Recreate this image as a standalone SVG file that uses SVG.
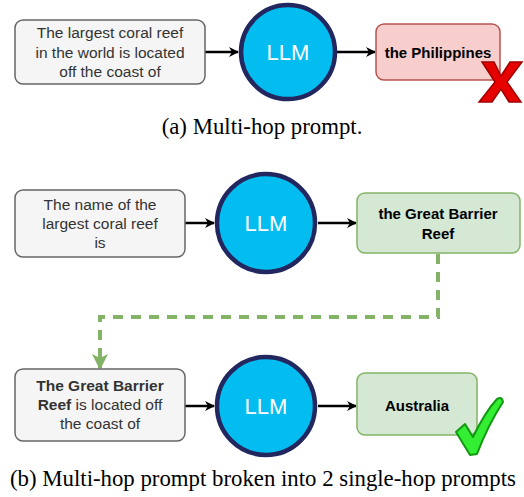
<svg xmlns="http://www.w3.org/2000/svg" width="524" height="497" viewBox="0 0 524 497">
<style>
.in{fill:#f5f5f5;stroke:#666666;stroke-width:1.5}
.bad{fill:#f8cecc;stroke:#b85450;stroke-width:1.5}
.good{fill:#d5e8d4;stroke:#82b366;stroke-width:1.5}
.llm{fill:#03bdf0;stroke:#23275f;stroke-width:4.5}
.t{font-family:"Liberation Sans",Arial,sans-serif;font-size:15.5px;fill:#333333;text-anchor:middle}
.b{font-family:"Liberation Sans",Arial,sans-serif;font-size:15px;font-weight:bold;fill:#000;text-anchor:middle}
.l{font-family:"Liberation Sans",Arial,sans-serif;font-size:22px;fill:#ffffff;text-anchor:middle}
.cap{font-family:"Liberation Serif","Times New Roman",serif;font-size:22.8px;fill:#000;text-anchor:middle}
.e{stroke:#000;stroke-width:2.5;fill:none}
</style>
<defs>
<marker id="ah" markerWidth="10" markerHeight="10" refX="9" refY="5" orient="auto" markerUnits="userSpaceOnUse" viewBox="0 0 10 10">
<path d="M0,0 L10,5 L0,10 L3,5 Z" fill="#000"/>
</marker>
<marker id="gh" markerWidth="16" markerHeight="16" refX="14" refY="8" orient="auto" markerUnits="userSpaceOnUse" viewBox="0 0 16 16">
<path d="M0,0 L16,8 L0,16 L4,8 Z" fill="#82b366"/>
</marker>
</defs>
<g id="connectors">
<line class="e" x1="205" y1="52" x2="238" y2="52" marker-end="url(#ah)"/>
<line class="e" x1="337" y1="52" x2="375" y2="52" marker-end="url(#ah)"/>
<line class="e" x1="185" y1="223" x2="214" y2="223" marker-end="url(#ah)"/>
<line class="e" x1="318" y1="223" x2="356" y2="223" marker-end="url(#ah)"/>
<line class="e" x1="185" y1="406" x2="214" y2="406" marker-end="url(#ah)"/>
<line class="e" x1="318" y1="406" x2="356" y2="406" marker-end="url(#ah)"/>
<path d="M438,254 V317 H100 V368" fill="none" stroke="#82b366" stroke-width="4" stroke-dasharray="10,8" marker-end="url(#gh)"/>
</g>
<g id="n1">
<rect class="in" x="15" y="20" width="190" height="64" rx="8"/>
<text class="t" x="110" y="38">The largest coral reef</text>
<text class="t" x="110" y="58">in the world is located</text>
<text class="t" x="110" y="77">off the coast of</text>
</g>
<g id="llm1">
<circle class="llm" cx="288" cy="52" r="47"/>
<text class="l" x="288" y="60">LLM</text>
</g>
<g id="out1">
<rect class="bad" x="376" y="24" width="124" height="56" rx="8"/>
<text class="b" x="438" y="58">the Philippines</text>
</g>
<g id="cross">
<path d="M482,62 L494,62 L501,76 L510,62 L522,62 L507,82 L521,102 L509,102 L501,89 L492,102 L479,102 L495,82 Z" fill="#e60000" stroke="#a00000" stroke-width="1.5"/>
</g>
<text class="cap" x="262" y="134">(a) Multi-hop prompt.</text>
<g id="n2">
<rect class="in" x="15" y="190" width="170" height="67" rx="8"/>
<text class="t" x="100" y="210">The name of the</text>
<text class="t" x="100" y="229">largest coral reef</text>
<text class="t" x="100" y="248">is</text>
</g>
<g id="llm2">
<circle class="llm" cx="266" cy="223" r="49"/>
<text class="l" x="266" y="231">LLM</text>
</g>
<g id="out2">
<rect class="good" x="357" y="193" width="163" height="60" rx="8"/>
<text class="b" x="438" y="219">the Great Barrier</text>
<text class="b" x="438" y="239">Reef</text>
</g>
<g id="n3">
<rect class="in" x="15" y="369" width="170" height="72" rx="8"/>
<text class="t" x="100" y="391"><tspan font-weight="bold">The Great Barrier</tspan></text>
<text class="t" x="100" y="410"><tspan font-weight="bold">Reef</tspan> is located off</text>
<text class="t" x="100" y="429">the coast of</text>
</g>
<g id="llm3">
<circle class="llm" cx="266" cy="406" r="49"/>
<text class="l" x="266" y="414">LLM</text>
</g>
<g id="out3">
<rect class="good" x="357" y="373" width="120" height="62" rx="8"/>
<text class="b" x="417" y="411">Australia</text>
</g>
<g id="check">
<path d="M456,432 L465,424 L473,437 Q485,412 497,399 Q502,396 503,402 Q488,425 477,454 L470,455 Z" fill="#33ee33" stroke="#119911" stroke-width="2" stroke-linejoin="round"/>
</g>
<text class="cap" x="263" y="486">(b) Multi-hop prompt broken into 2 single-hop prompts</text>
</svg>
